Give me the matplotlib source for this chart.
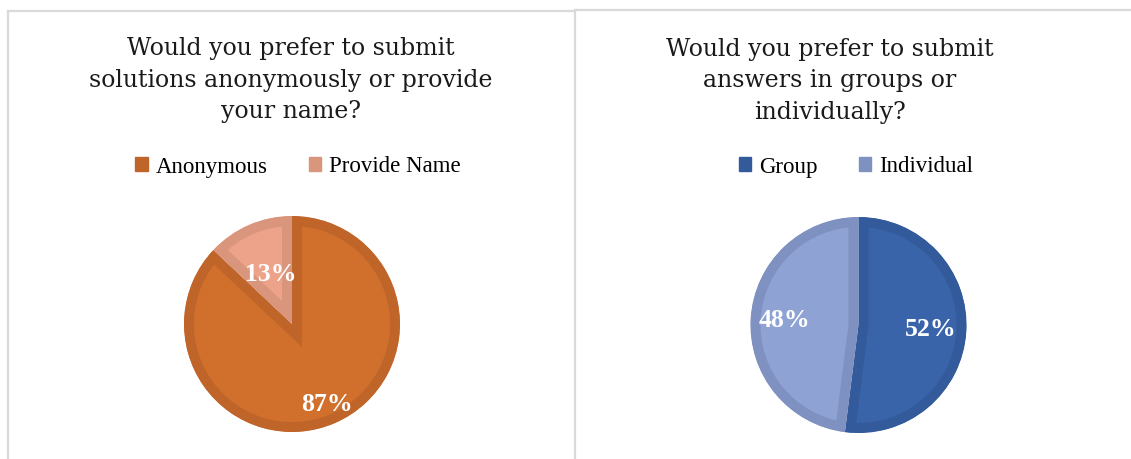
import numpy as np
import matplotlib
matplotlib.use("Agg")
import matplotlib.pyplot as plt
from matplotlib.patches import Patch
from matplotlib.lines import Line2D

W, H = 1131, 459

# chart data
left_title = "Would you prefer to submit\nsolutions anonymously or provide\nyour name?"
left_labels = ["Anonymous", "Provide Name"]
left_values = [87, 13]
left_fill = ["#D0702C", "#EDA38A"]
left_edge = ["#C0652A", "#D9967C"]

right_title = "Would you prefer to submit\nanswers in groups or\nindividually?"
right_labels = ["Group", "Individual"]
right_values = [52, 48]
right_fill = ["#3A64AA", "#8EA2D3"]
right_edge = ["#335A9A", "#7F91C0"]


def px_axes(fig, cx, cy, size):
    return fig.add_axes([(cx - size / 2) / W, (H - cy - size / 2) / H, size / W, size / H])


def draw_pie(fig, cx, cy, r, values, fills, edges, label_dist):
    size = 250
    ax = px_axes(fig, cx, cy, size)
    wedges, _ = ax.pie(values, colors=fills, startangle=90, counterclock=False,
                       wedgeprops=dict(linewidth=14.4))
    for w, ec in zip(wedges, edges):
        w.set_edgecolor(ec)
        w.set_clip_path(w)  # keep the thick border inside the slice
        w.set_clip_on(True)
    total = sum(values)
    for w, v, d in zip(wedges, values, label_dist):
        ang = np.deg2rad((w.theta1 + w.theta2) / 2)
        ax.text(d * np.cos(ang), d * np.sin(ang), f"{round(100 * v / total)}%",
                ha="center", va="center", color="white", fontsize=18.5,
                fontweight="bold", family="Liberation Serif")
    lim = size / 2 / r
    ax.set_xlim(-lim, lim)
    ax.set_ylim(-lim, lim)
    ax.set_aspect("equal")
    ax.axis("off")


fig = plt.figure(figsize=(W / 100, H / 100), dpi=100)
fig.patch.set_facecolor("white")

# panel borders
border = "#D9D9D9"
for xs, ys in [((8, 8), (11, 459)), ((8, 575), (11, 11)), ((575, 575), (10, 459)),
               ((575, 1131), (10, 10))]:
    fig.add_artist(Line2D([x / W for x in xs], [1 - y / H for y in ys],
                          color=border, linewidth=1.6))

# titles
fig.text(291 / W, 1 - 80 / H, left_title, ha="center", va="center", fontsize=17,
         family="DejaVu Serif", color="#1A1A1A", linespacing=1.48)
fig.text(830 / W, 1 - 81 / H, right_title, ha="center", va="center", fontsize=17,
         family="DejaVu Serif", color="#1A1A1A", linespacing=1.48)

# legends
for labels, edges, cx in [(left_labels, left_edge, 298), (right_labels, right_edge, 856)]:
    handles = [Patch(facecolor=c, edgecolor=c) for c in edges]
    fig.legend(handles, labels, loc="center", bbox_to_anchor=(cx / W, 1 - 167 / H),
               ncol=2, frameon=False, prop={"family": "Liberation Serif", "size": 16.5},
               handlelength=0.55, handleheight=0.55, handletextpad=0.35, columnspacing=1.8)

draw_pie(fig, 292, 324, 108, left_values, left_fill, left_edge, [0.81, 0.5])
draw_pie(fig, 858.5, 325, 108, right_values, right_fill, right_edge, [0.67, 0.69])

fig.savefig("out.png", dpi=100, facecolor="white")
